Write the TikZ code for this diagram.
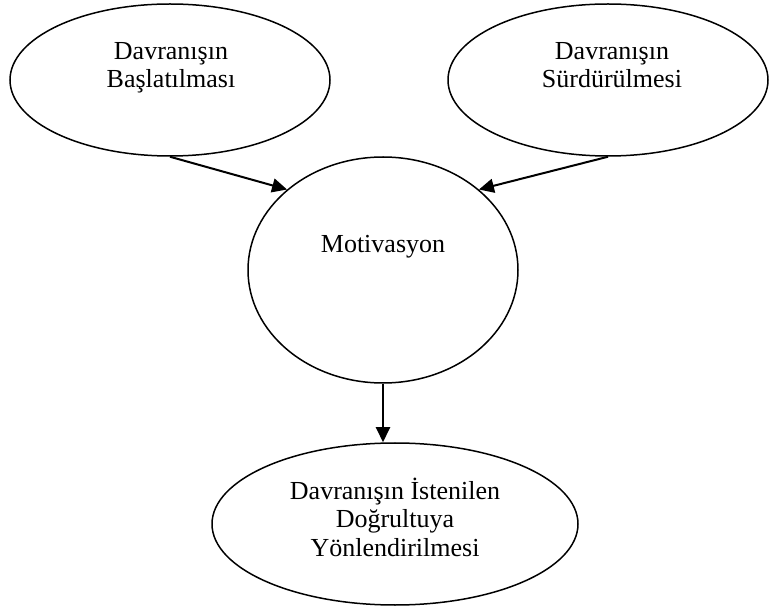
\documentclass[tikz,border=0pt]{standalone}
\usepackage{fontspec}
\setmainfont{Liberation Serif}
\usetikzlibrary{calc}
\usetikzlibrary{arrows.meta}
\usetikzlibrary{shapes.geometric}

\tikzset{
  oval/.style={ellipse, draw, line width=1.5pt, inner sep=0pt},
  caption/.style={align=center, inner sep=0pt, anchor=base, font=\fontsize{26}{28.5}\selectfont},
  push/.style={line width=2pt, -{Triangle[length=15pt,width=14pt]}}
}

\begin{document}
\begin{tikzpicture}[x=1pt, y=-1pt]
    % Frame of the picture (pixel units, y pointing down)
    \useasboundingbox (0,0) rectangle (769,612);

    % The two ovals on top
    \node[oval, minimum width=320pt, minimum height=152pt] (start) at (170,80) {};
    \node[oval, minimum width=320pt, minimum height=152pt] (keep) at (608,80) {};

    % Motivation in the middle
    \node[oval, minimum width=270pt, minimum height=226pt] (mot) at (383,270) {};

    % Oval at the bottom
    \node[oval, minimum width=366pt, minimum height=162pt] (goal) at (395,524) {};

    % Texts sit a bit above the centre of each oval
    \node[caption] (startText) at (171,88) {Davranışın\\Başlatılması};
    \node[caption] (keepText) at (612,88) {Davranışın\\Sürdürülmesi};
    \node[caption] (motText) at (383,253) {Motivasyon};
    \node[caption] (goalText) at (395,556) {Davranışın İstenilen\\Doğrultuya\\Yönlendirilmesi};

    % Arrows into and out of the middle oval
    \draw[push] (start.south) -- (mot.140);
    \draw[push] (keep.south) -- (mot.40);
    \draw[push] (mot.south) -- (mot.south |- goal.north);

\end{tikzpicture}
\end{document}
